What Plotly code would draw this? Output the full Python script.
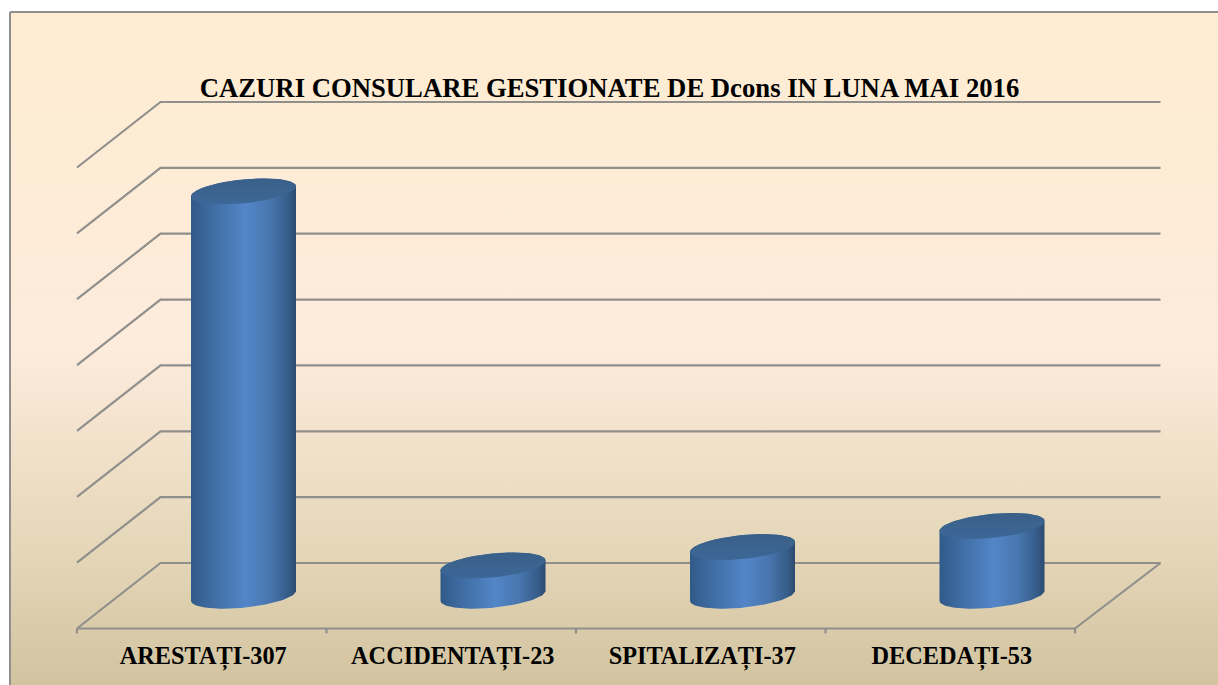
import numpy as np
import plotly.graph_objects as go

TITLE = "CAZURI CONSULARE GESTIONATE DE Dcons IN LUNA MAI 2016"
categories = ["ARESTAȚI-307", "ACCIDENTAȚI-23", "SPITALIZAȚI-37", "DECEDAȚI-53"]
values = [307, 23, 37, 53]
grid_values = [0, 50, 100, 150, 200, 250, 300, 350]

W, H = 1218, 685
L, R, BOTTOM = 77, 1075, 628      # front floor edge in pixels
WALL0 = 563                       # pixel row of value 0 on the back wall
UNIT = (563 - 102) / 350          # px per value unit
XU = (R - L) / 4                  # px per category
DX = 83.5 / XU
DX_R = 85.5 / XU
DY = 65.5 / UNIT
GRID = "#908F8C"


def px_x(p):
    return (p - L) / XU - 0.5


def px_y(p):
    return (WALL0 - p) / UNIT


fig = go.Figure()

# page background panel
fig.add_trace(go.Scatter(
    x=[px_x(10), px_x(W), px_x(W), px_x(10), px_x(10)],
    y=[px_y(12), px_y(12), px_y(H), px_y(H), px_y(12)],
    mode="lines", line=dict(width=0), fill="toself", hoverinfo="skip",
    fillgradient=dict(type="vertical", colorscale=[
        [0, "#D2C4A0"], [0.22, "#E6D8BA"], [0.5, "#FDEBDC"], [1, "#FEEDD1"]]),
))

# back wall + left wall grid, floor outline
gx, gy = [], []
for v in grid_values:
    gx += [-0.5, -0.5 + DX, 3.5 + DX_R, None]
    gy += [v - DY, v, v, None]
gx += [3.5, 3.5 + DX_R, None, -0.5, 3.5, None]
gy += [-DY, 0, None, -DY, -DY, None]
for b in [-0.5, 0.5, 1.5, 2.5, 3.5]:
    gx += [b, b, None]
    gy += [-DY, -DY - 5 / UNIT, None]
fig.add_trace(go.Scatter(x=gx, y=gy, mode="lines", line=dict(color=GRID, width=2.2),
                         hoverinfo="skip"))

# cylinders
A = 52.5 / XU
Bb = 12 / UNIT
K = 5 / UNIT
BODY = [[0, "#305A88"], [0.2, "#3F6CA2"], [0.52, "#5386C8"], [0.75, "#4876AE"],
        [0.93, "#355C88"], [1, "#2C4A6E"]]
CAP = [[0, "#3C6797"], [1, "#3A6088"]]


def arc(cx, cy, t0, t1, n=60):
    t = np.linspace(t0, t1, n)
    return cx + A * np.cos(t), cy + Bb * np.sin(t) + K * np.cos(t)


for i, v in enumerate(values):
    cx = i + DX / 2
    base = -DY / 2
    top = base + v
    bx, by = arc(cx, base, np.pi, 2 * np.pi)
    tx, ty = arc(cx, top, 0, np.pi)
    fig.add_trace(go.Scatter(
        x=np.r_[bx, tx, bx[:1]], y=np.r_[by, ty, by[:1]],
        mode="lines", line=dict(width=0), fill="toself",
        hoverinfo="skip", fillgradient=dict(type="horizontal", colorscale=BODY),
    ))
    ex, ey = arc(cx, top, 0, 2 * np.pi, 90)
    fig.add_trace(go.Scatter(
        x=ex, y=ey, mode="lines", line=dict(width=0), fill="toself",
        hoverinfo="skip", fillgradient=dict(type="vertical", colorscale=CAP),
    ))

# frame
fig.add_shape(type="line", xref="paper", yref="paper", layer="above",
              x0=10 / W, x1=1, y0=1 - 12 / H, y1=1 - 12 / H,
              line=dict(color="#8F8F8F", width=2))
fig.add_shape(type="line", xref="paper", yref="paper", layer="above",
              x0=10 / W, x1=10 / W, y0=0, y1=1 - 12 / H,
              line=dict(color="#8F8F8F", width=2))

fig.update_layout(
    width=W, height=H, autosize=False, showlegend=False,
    margin=dict(l=0, r=0, t=0, b=0, pad=0),
    paper_bgcolor="white", plot_bgcolor="rgba(0,0,0,0)",
    font=dict(family="Liberation Serif", color="#000000"),
    title=dict(text="<b>" + TITLE + "</b>",
               font=dict(size=26.7, color="#000000", family="Liberation Serif"),
               x=609.5 / W, xref="container", xanchor="center",
               y=1 - 88 / H, yref="container", yanchor="middle"),
    xaxis=dict(range=[px_x(0), px_x(W)], tickmode="array",
               tickvals=[i + 0.006 for i in range(len(categories))],
               ticktext=["<b>%s</b>" % c for c in categories], showgrid=False, zeroline=False,
               showline=False, ticks="", anchor="free", position=(H - BOTTOM) / H,
               tickfont=dict(size=24.3, color="#000000", family="Liberation Serif"),
               ticklabelstandoff=11),
    yaxis=dict(range=[px_y(H), px_y(0)], visible=False, showgrid=False, zeroline=False),
)

fig.write_html("out.html", config={"displayModeBar": False},
               post_script="document.body.style.margin='0';document.body.style.overflow='hidden';")
